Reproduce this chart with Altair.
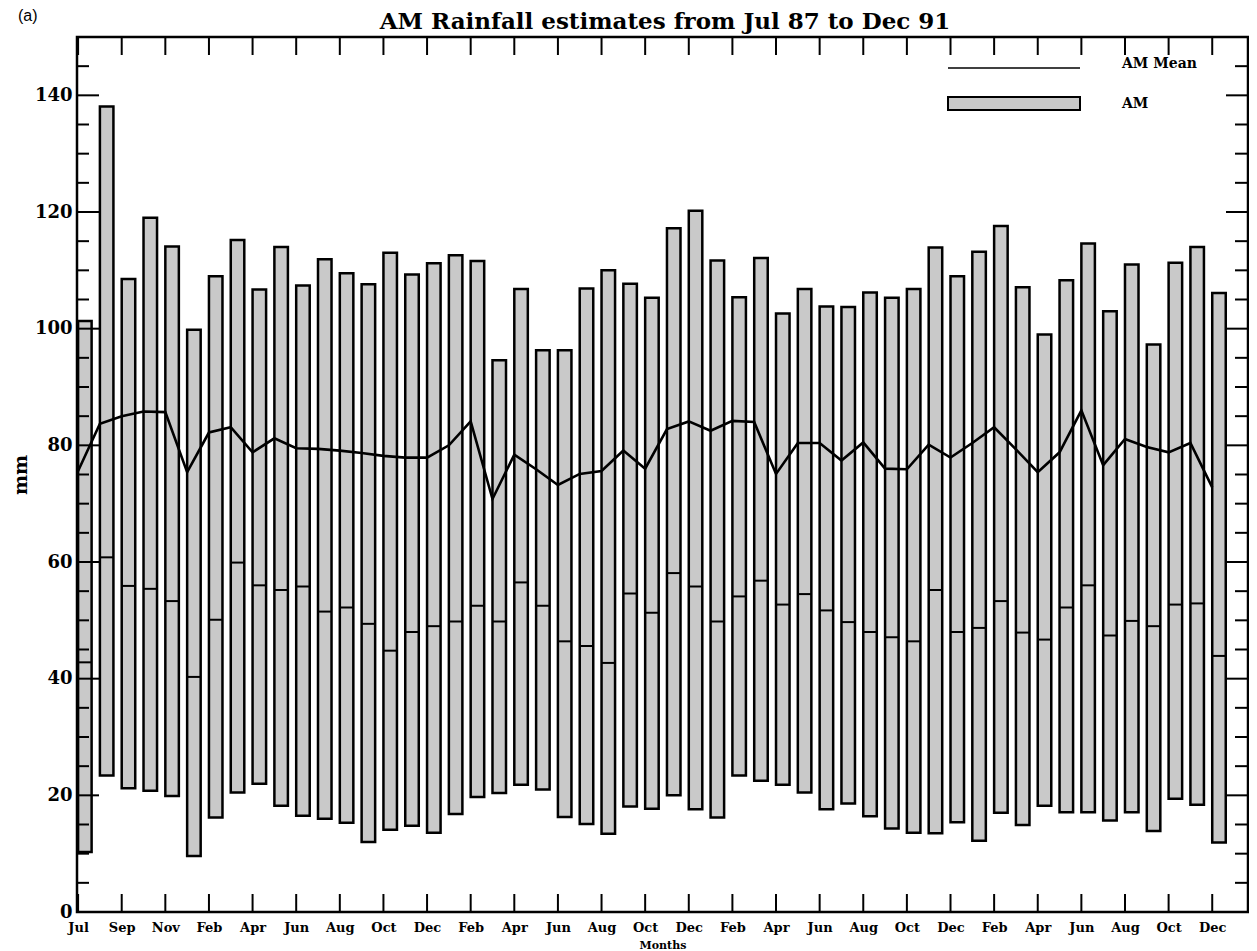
import altair as alt
import pandas as pd

# ---------------- data ----------------
tick_labels = ["Jul", "Sep", "Nov", "Feb", "Apr", "Jun", "Aug", "Oct", "Dec",
               "Feb", "Apr", "Jun", "Aug", "Oct", "Dec",
               "Feb", "Apr", "Jun", "Aug", "Oct", "Dec",
               "Feb", "Apr", "Jun", "Aug", "Oct", "Dec"]

high = [101.3, 138.1, 108.5, 119.0, 114.1, 99.8, 109.0, 115.2, 106.7, 114.0,
        107.4, 111.9, 109.5, 107.6, 113.0, 109.3, 111.2, 112.6, 111.6, 94.6,
        106.8, 96.3, 96.3, 106.9, 110.0, 107.7, 105.3, 117.2, 120.2, 111.7,
        105.4, 112.1, 102.6, 106.8, 103.8, 103.7, 106.2, 105.3, 106.8, 113.9,
        109.0, 113.2, 117.6, 107.1, 99.0, 108.3, 114.6, 103.0, 111.0, 97.3,
        111.3, 114.0, 106.1]

low = [10.3, 23.4, 21.2, 20.8, 19.9, 9.6, 16.2, 20.5, 22.0, 18.2,
       16.5, 16.0, 15.3, 12.0, 14.1, 14.8, 13.6, 16.8, 19.7, 20.4,
       21.8, 21.0, 16.3, 15.1, 13.4, 18.1, 17.7, 20.0, 17.6, 16.2,
       23.4, 22.5, 21.8, 20.5, 17.6, 18.6, 16.4, 14.3, 13.6, 13.5,
       15.4, 12.2, 17.0, 14.9, 18.2, 17.1, 17.1, 15.7, 17.1, 13.9,
       19.4, 18.4, 11.9]

median = [42.8, 60.8, 55.9, 55.4, 53.3, 40.3, 50.1, 59.9, 56.0, 55.2,
          55.8, 51.5, 52.2, 49.4, 44.8, 48.0, 49.0, 49.8, 52.5, 49.8,
          56.5, 52.5, 46.4, 45.6, 42.7, 54.6, 51.3, 58.1, 55.8, 49.8,
          54.1, 56.8, 52.7, 54.5, 51.7, 49.7, 48.0, 47.1, 46.4, 55.2,
          48.0, 48.7, 53.3, 47.9, 46.7, 52.2, 56.0, 47.4, 49.9, 49.0,
          52.7, 52.9, 43.9]

mean = [75.6, 83.7, 85.0, 85.8, 85.7, 75.4, 82.2, 83.1, 78.8, 81.2,
        79.5, 79.4, 79.1, 78.7, 78.2, 77.9, 77.9, 80.0, 84.1, 70.8,
        78.4, 75.9, 73.2, 75.1, 75.6, 79.1, 76.0, 82.8, 84.1, 82.5,
        84.2, 84.0, 75.1, 80.4, 80.4, 77.4, 80.5, 76.0, 75.9, 80.1,
        77.9, 80.4, 83.1, 79.3, 75.4, 78.8, 86.0, 76.6, 81.1, 79.7,
        78.8, 80.4, 72.8]

y_major = [0, 20, 40, 60, 80, 100, 120, 140]
y_minor = [v for v in range(5, 150, 5) if v % 20 != 0]

title_text = "AM Rainfall estimates from Jul 87 to Dec 91"

# ---------------- layout ----------------
W, H = 1171, 875
X_DOMAIN = [-0.05, 53.64]
Y_DOMAIN = [0, 150]
SERIF = "DejaVu Serif"
BAR_FILL = "#c9c9c9"

df = pd.DataFrame({"idx": list(range(len(high))), "low": low, "high": high,
                   "median": median, "mean": mean})
xtick_pos = list(range(0, 2 * len(tick_labels), 2))
xticks_df = pd.DataFrame({"idx": xtick_pos})
ymaj_df = pd.DataFrame({"low": y_major})
ymin_df = pd.DataFrame({"low": y_minor})

xscale = alt.Scale(domain=X_DOMAIN, nice=False, zero=False)
yscale = alt.Scale(domain=Y_DOMAIN, nice=False, zero=False)

label_array = "[" + ",".join("'" + t + "'" for t in tick_labels) + "]"

xaxis = alt.Axis(values=xtick_pos,
                 labelExpr=label_array + "[round(datum.value/2)]",
                 ticks=False, domain=False, grid=False,
                 labelFont=SERIF, labelFontSize=13, labelFontWeight="bold",
                 labelColor="black", labelPadding=9, labelOverlap=False,
                 title="Months", titleFont=SERIF, titleFontSize=11,
                 titleFontWeight="bold", titleColor="black", titlePadding=5)
yaxis = alt.Axis(values=y_major, ticks=False, domain=False, grid=False,
                 labelFont=SERIF, labelFontSize=18, labelFontWeight="bold",
                 labelColor="black", labelPadding=5, labelOverlap=False,
                 title="mm", titleFont=SERIF, titleFontSize=19,
                 titleFontWeight="bold", titleColor="black", titlePadding=8,
                 titleBaseline="alphabetic")

X = lambda f: alt.X(f, scale=xscale, axis=xaxis)
Y = lambda f: alt.Y(f, scale=yscale, axis=yaxis)

base = alt.Chart(df).transform_calculate(x1="datum.idx + 0.62")

bars = base.mark_bar(fill=BAR_FILL, stroke="black", strokeWidth=2.5).encode(
    x=X("idx:Q"), x2="x1:Q", y=Y("low:Q"), y2="high:Q")

med = base.mark_rule(color="black", strokeWidth=2).encode(
    x=X("idx:Q"), x2="x1:Q", y=Y("median:Q"))

line = alt.Chart(df).mark_line(color="black", strokeWidth=2.6).encode(
    x=X("idx:Q"), y=Y("mean:Q"))

# inward ticks on all four sides
def yticks(data, length, side):
    xa, xb = (0, length) if side == "left" else (W - length, W)
    return alt.Chart(data).mark_rule(color="black", strokeWidth=2).encode(
        x=alt.value(xa), x2=alt.value(xb), y=Y("low:Q"))

def xticks(top):
    ya, yb = (0, 18) if top else (H - 18, H)
    return alt.Chart(xticks_df).mark_rule(color="black", strokeWidth=2).encode(
        x=X("idx:Q"), y=alt.value(ya), y2=alt.value(yb))

ticks = [yticks(ymaj_df, 22, "left"), yticks(ymin_df, 12, "left"),
         yticks(ymaj_df, 22, "right"), yticks(ymin_df, 13, "right"),
         xticks(True), xticks(False)]

one = pd.DataFrame({"k": [0]})

def text(t, x, y, font=SERIF, size=14, weight="bold", align="left", baseline="middle"):
    return alt.Chart(one).mark_text(text=t, font=font, fontSize=size, fontWeight=weight,
                                    align=align, baseline=baseline, color="black").encode(
        x=alt.value(x), y=alt.value(y))

# legend (top right)
leg_line = alt.Chart(one).mark_rule(color="black", strokeWidth=1.5).encode(
    x=alt.value(871), x2=alt.value(1003), y=alt.value(31))
leg_rect = alt.Chart(one).mark_rect(fill=BAR_FILL, stroke="black", strokeWidth=2).encode(
    x=alt.value(871), x2=alt.value(1003), y=alt.value(60), y2=alt.value(73))
leg_t1 = text("AM Mean", 1045, 27)
leg_t2 = text("AM", 1045, 67)
panel = text("(a)", -59, -21, font="Liberation Sans", size=16, weight="normal")
title = text(title_text, 588, -8, size=23, align="center", baseline="alphabetic")

chart = alt.layer(bars, med, line, *ticks, leg_line, leg_rect, leg_t1, leg_t2,
                  panel, title).properties(
    width=W, height=H,
    autosize=alt.AutoSizeParams(type="none"),
    padding={"left": 69, "top": 29, "right": 1, "bottom": 40},
    background="white",
).configure_view(stroke="black", strokeWidth=2.5)

chart.save("out.html", embed_options={"renderer": "svg", "actions": False})
